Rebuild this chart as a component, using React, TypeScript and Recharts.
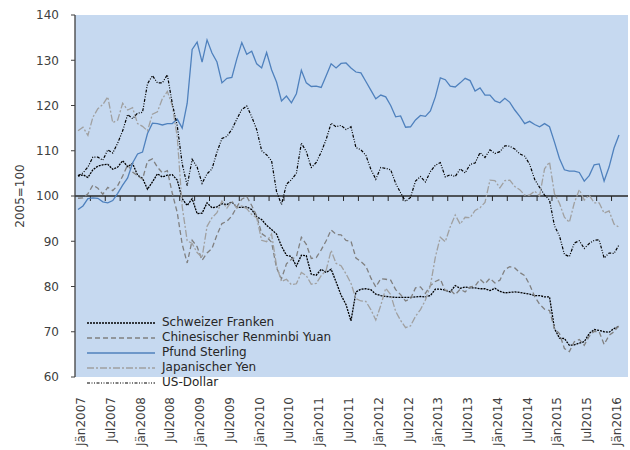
import React from 'react';
import { LineChart, Line, XAxis, YAxis, CartesianGrid, ReferenceLine, Legend, Label } from 'recharts';

const monthNames = ['Jän', 'Feb', 'Mär', 'Apr', 'Mai', 'Jun', 'Jul', 'Aug', 'Sep', 'Okt', 'Nov', 'Dez'];
const years = [2007, 2008, 2009, 2010, 2011, 2012, 2013, 2014, 2015, 2016];
// Jän2007 .. Feb2016
const categories = years.flatMap((y) => monthNames.map((m) => `${m}${y}`)).slice(0, 110);

const schweizerFranken = [
  104.4, 104.7, 104.1, 105.8, 106.6, 106.9, 107.0, 105.9, 106.4, 107.8, 106.5, 107.2,
  104.6, 103.9, 101.5, 103.1, 104.9, 104.2, 104.6, 104.7, 103.5, 99.4, 97.9, 99.4,
  96.1, 96.2, 98.5, 97.4, 97.6, 98.3, 98.1, 98.7, 97.5, 97.5, 97.6, 97.0,
  95.4, 94.8, 93.5, 92.6, 91.6, 88.9, 86.9, 86.6, 84.5, 86.9, 86.8, 82.7,
  82.5, 83.8, 83.1, 83.8, 81.0, 78.1, 76.0, 72.4, 78.8, 79.4, 79.5, 79.3,
  78.3, 78.0, 77.8, 77.7, 77.6, 77.6, 77.6, 77.6, 77.7, 77.8, 77.7, 78.0,
  79.4, 79.4, 79.2, 78.8, 80.2, 79.6, 79.9, 79.7, 79.7, 79.5, 79.5, 79.1,
  79.6, 78.9, 78.6, 78.7, 78.8, 78.7, 78.5, 78.3, 78.0, 78.0, 77.7, 77.7,
  70.7, 68.6, 68.5, 67.0, 67.1, 67.5, 67.8, 69.6, 70.5, 70.3, 70.0, 69.9,
  70.7, 71.2,
];

const renminbiYuan = [
  99.5, 99.6, 100.5, 102.4, 101.7, 100.4, 101.9, 101.2, 102.3, 104.4, 106.9, 105.3,
  104.5, 103.7, 107.7, 108.2, 106.4, 105.1, 105.6, 100.6, 96.3, 89.3, 85.2, 90.2,
  88.8, 85.8, 87.4, 88.4, 91.4, 93.9, 94.4, 95.6, 97.6, 99.3, 99.9, 97.9,
  95.6, 91.7, 90.9, 89.8, 84.1, 81.7, 85.0, 86.0, 86.6, 90.9, 89.3, 86.2,
  86.4, 88.1, 90.1, 92.5, 91.5, 91.4, 90.2, 90.0, 86.3, 85.5, 84.5, 81.9,
  79.9, 81.7, 81.6, 81.4, 79.3, 78.2, 76.8, 77.3, 79.7, 79.9, 78.5, 80.2,
  81.1, 81.6, 79.1, 79.2, 78.2, 79.4, 78.8, 79.9, 80.1, 81.6, 80.6, 81.8,
  80.8, 81.4, 83.7, 84.4, 84.1, 83.1, 82.4, 80.4, 77.8, 76.1, 75.0, 74.7,
  70.7, 69.6, 66.3, 65.6, 67.8, 68.3, 67.0, 69.0, 70.1, 70.0, 67.2, 69.2,
  70.0, 71.4,
];

const pfundSterling = [
  97.0, 97.8, 99.4, 99.6, 99.5, 98.7, 98.5, 99.0, 100.6, 102.4, 104.0, 107.3,
  109.3, 109.7, 113.8, 116.1, 116.0, 115.7, 116.0, 116.0, 117.0, 115.0, 120.5, 132.4,
  134.0, 129.6, 134.5, 131.6, 129.6, 125.0, 126.0, 126.2, 130.3, 133.9, 131.3, 132.0,
  129.2, 128.3, 131.7, 127.9, 125.2, 121.0, 122.1, 120.6, 122.6, 127.8, 125.0, 124.2,
  124.3, 124.0, 126.6, 129.2, 128.3, 129.3, 129.4, 128.3, 127.4, 127.2, 125.3, 123.4,
  121.5, 122.3, 121.9, 120.0, 117.5, 117.7, 115.2, 115.3, 116.8, 117.8, 117.6, 118.8,
  121.9, 126.1, 125.7, 124.3, 124.1, 125.0, 126.0, 125.5, 123.2, 123.9, 122.3, 122.3,
  121.0, 120.6, 121.6, 120.7, 119.0, 117.6, 116.0, 116.5, 115.8, 115.3, 116.0, 115.3,
  111.9, 108.3, 105.8, 105.5, 105.5, 105.2, 103.3, 104.5, 106.9, 107.1, 103.3, 106.4,
  110.6, 113.5,
];

const japanischerYen = [
  114.4, 115.2, 113.4, 117.4, 119.3, 120.2, 121.9, 116.2, 116.8, 120.5, 119.0, 119.5,
  116.0, 115.4, 114.4, 118.1, 118.6, 121.5, 123.1, 120.0, 113.0, 97.6, 90.1, 89.5,
  87.5, 86.4, 93.3, 95.2, 96.3, 98.9, 97.3, 98.9, 97.3, 97.8, 97.2, 95.9,
  95.2, 90.2, 89.9, 91.6, 84.6, 81.1, 81.6, 80.4, 80.6, 83.1, 82.4, 80.5,
  80.7, 82.4, 83.6, 88.0, 85.1, 84.6, 82.8, 80.7, 77.3, 76.8, 76.7, 74.9,
  72.6, 75.8, 79.6, 78.2, 74.5, 72.5, 70.9, 71.3, 73.4, 74.9, 77.0, 80.2,
  86.5, 90.9, 89.9, 93.2, 95.8, 93.8, 95.3, 95.2, 96.8, 97.4, 98.6, 103.5,
  103.4, 101.8, 103.4, 103.5, 102.1, 101.4, 100.2, 100.2, 101.1, 100.0, 106.0, 107.5,
  100.5, 98.4, 95.3, 94.2, 98.5, 101.4, 99.1, 100.2, 98.5, 98.5, 96.2, 96.7,
  93.8, 93.1,
];

const usDollar = [
  104.5, 105.1, 106.4, 108.6, 108.6, 107.9, 110.2, 109.5, 111.7, 114.4, 118.0, 117.1,
  118.3, 118.5, 124.8, 126.6, 125.0, 125.0, 126.8, 120.4, 115.5, 107.1, 102.3, 108.1,
  106.4, 102.8, 104.9, 106.0, 109.7, 112.7, 113.2, 114.7, 117.0, 119.1, 119.9, 117.5,
  114.7, 110.0, 109.1, 107.8, 101.0, 98.1, 102.6, 103.6, 105.0, 111.7, 109.8, 106.3,
  107.4, 109.7, 112.5, 116.1, 115.3, 115.6, 114.7, 115.3, 110.7, 110.2, 109.0, 105.9,
  103.7, 106.3, 106.1, 105.8, 102.8, 100.7, 98.8, 99.7, 103.3, 104.3, 103.1, 105.4,
  106.8, 107.4, 104.2, 104.7, 104.3, 106.0, 105.1, 107.0, 107.3, 109.6, 108.5, 110.2,
  109.4, 109.8, 111.1, 111.0, 110.4, 109.3, 108.8, 107.0, 103.7, 101.9, 100.2, 99.1,
  93.4, 91.2, 87.1, 86.6, 89.6, 90.1, 88.4, 89.5, 90.2, 90.3, 86.3, 87.4,
  87.3, 89.2,
];

const yTicks = [60, 70, 80, 90, 100, 110, 120, 130, 140];

const series = [
  { key: 'chf', name: 'Schweizer Franken', values: schweizerFranken, color: '#000000', dash: '2 1', width: 1.3 },
  { key: 'cny', name: 'Chinesischer Renminbi Yuan', values: renminbiYuan, color: '#808080', dash: '5 3', width: 1.3 },
  { key: 'gbp', name: 'Pfund Sterling', values: pfundSterling, color: '#4f81bd', dash: undefined, width: 1.3 },
  { key: 'jpy', name: 'Japanischer Yen', values: japanischerYen, color: '#a0a0a0', dash: '7 2 2 2', width: 1.3 },
  { key: 'usd', name: 'US-Dollar', values: usDollar, color: '#000000', dash: '3 1.5 1 1.5 1 1.5', width: 1.2 },
];

const data = categories.map((month, i) => {
  const row: Record<string, string | number> = { month };
  series.forEach((s) => {
    row[s.key] = s.values[i];
  });
  return row;
});

// small tick marks on the 100 line, every quarter
const quarterTicks = categories.filter((_, i) => i > 0 && i % 3 === 0);

const FONT = '"DejaVu Sans", sans-serif';
const TEXT = '#404040';

const XTick = ({ x, y, payload }: any) => (
  <g transform={`translate(${x},${y})`}>
    <text transform="rotate(-90)" x={-20} y={7} textAnchor="end" fontSize={12} fill={TEXT}>
      {payload.value}
    </text>
  </g>
);

const TickMark = (props: any) => (
  <line x1={props.x1 - 2.5} y1={props.y1} x2={props.x2 - 2.5} y2={props.y2} stroke="#262626" strokeWidth={1} />
);

const YLabel = ({ viewBox }: any) => {
  const cy = viewBox.y + viewBox.height / 2;
  return (
    <text x={20} y={cy} transform={`rotate(-90, 20, ${cy})`} textAnchor="middle" dominantBaseline="central" fontSize={12} fill={TEXT}>
      2005=100
    </text>
  );
};

const LegendBox = () => (
  <div style={{ fontFamily: FONT, fontSize: 12, color: '#262626' }}>
    {series.map((s) => (
      <div key={s.key} style={{ display: 'flex', alignItems: 'center', height: 15.1 }}>
        <svg width={68} height={6}>
          <line x1={0} y1={3} x2={68} y2={3} stroke={s.color} strokeWidth={s.width} strokeDasharray={s.dash} />
        </svg>
        <span style={{ marginLeft: 7, whiteSpace: 'nowrap', lineHeight: '15px' }}>{s.name}</span>
      </div>
    ))}
  </div>
);

export default function App() {
  return (
    <div style={{ position: 'absolute', left: 0, top: 0, width: 630, height: 450, background: '#fff', fontFamily: FONT }}>
      <LineChart width={630} height={450} data={data} margin={{ top: 15, right: 2, bottom: 0, left: 0 }}>
        <CartesianGrid horizontal={false} vertical={false} fill="#c6d9f0" fillOpacity={1} />
        <XAxis
          dataKey="month"
          interval={5}
          height={73}
          tick={<XTick />}
          tickLine={false}
          axisLine={false}
          tickSize={0}
          tickMargin={0}
          padding={{ left: 3, right: 9 }}
        />
        <YAxis
          width={75}
          domain={[60, 140]}
          ticks={yTicks}
          interval={0}
          tickSize={4}
          tickMargin={12}
          tick={{ fontSize: 12, fill: TEXT }}
          stroke="#404040"
          axisLine={{ stroke: '#404040', strokeWidth: 1.3 }}
          tickLine={{ stroke: '#404040' }}
        >
          <Label content={<YLabel />} />
        </YAxis>
        <ReferenceLine y={100} stroke="#262626" strokeWidth={1.3} />
        {quarterTicks.map((m) => (
          <ReferenceLine
            key={m}
            segment={[{ x: m, y: 100 }, { x: m, y: 98.9 }]}
            shape={<TickMark />}
          />
        ))}
        {series.map((s) => (
          <Line
            key={s.key}
            type="linear"
            dataKey={s.key}
            name={s.name}
            stroke={s.color}
            strokeWidth={s.width}
            strokeDasharray={s.dash}
            dot={false}
            activeDot={false}
            isAnimationActive={false}
          />
        ))}
        <Legend
          layout="vertical"
          align="center"
          verticalAlign="middle"
          wrapperStyle={{ left: 87, top: 315, width: 280 }}
          content={<LegendBox />}
        />
      </LineChart>
    </div>
  );
}
